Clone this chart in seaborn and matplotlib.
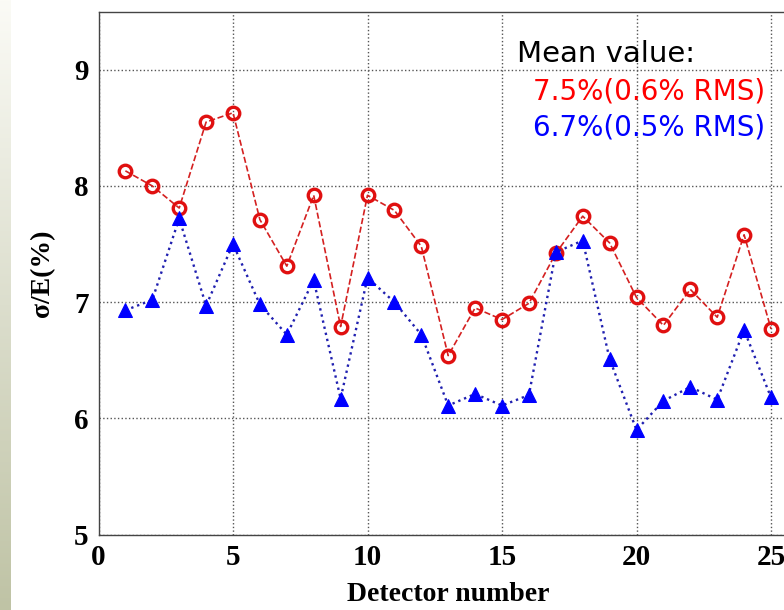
import numpy as np
import pandas as pd
import matplotlib
matplotlib.use("Agg")
import matplotlib.pyplot as plt
import seaborn as sns

# Data
detectors = list(range(1, 26))
sigma_red = [8.13, 8.00, 7.81, 8.55, 8.63, 7.71, 7.31, 7.92, 6.79, 7.92,
             7.79, 7.48, 6.54, 6.95, 6.85, 6.99, 7.42, 7.74, 7.51, 7.04,
             6.80, 7.11, 6.87, 7.58, 6.77]
sigma_blue = [6.93, 7.02, 7.72, 6.97, 7.50, 6.98, 6.72, 7.19, 6.17, 7.21,
              7.00, 6.72, 6.11, 6.21, 6.11, 6.20, 7.43, 7.53, 6.51, 5.90,
              6.15, 6.27, 6.16, 6.76, 6.18]
x_ticks = [0, 5, 10, 15, 20, 25]
y_ticks = [5, 6, 7, 8, 9]
mean_label = "Mean value:"
red_label = "7.5%(0.6% RMS)"
blue_label = "6.7%(0.5% RMS)"

df = pd.DataFrame({"detector": detectors, "red": sigma_red, "blue": sigma_blue})

sns.set_style("white")
plt.rcParams["font.family"] = ["Liberation Serif", "DejaVu Serif"]
plt.rcParams["text.color"] = "black"
plt.rcParams["axes.labelcolor"] = "black"
plt.rcParams["xtick.color"] = "black"
plt.rcParams["ytick.color"] = "black"

fig = plt.figure(figsize=(7.84, 6.10), dpi=100)

# beige slide strip on the left
strip = fig.add_axes([0, 0, 11 / 784, 1])
grad = np.linspace(0, 1, 256).reshape(-1, 1)
cmap = matplotlib.colors.LinearSegmentedColormap.from_list("strip", ["#fbfbf6", "#dcdecd", "#bfc3a5"])
strip.imshow(grad, aspect="auto", cmap=cmap, extent=[0, 1, 0, 1], origin="upper")
strip.axis("off")

# axes run past the right edge of the picture (cropped like the reference)
ax = fig.add_axes([98.5 / 784, 75.5 / 610, 699.4 / 784, 522.8 / 610])

sns.lineplot(data=df, x="detector", y="red", ax=ax, color="#d42020", linestyle="--",
             linewidth=1.2, marker="o", markersize=9, markerfacecolor="none",
             markeredgecolor="#e01010", markeredgewidth=2.4)
sns.lineplot(data=df, x="detector", y="blue", ax=ax, color="#2020b0", linestyle=":",
             linewidth=1.7, marker="^", markersize=10.5, markerfacecolor="#0000ff",
             markeredgecolor="#0000ff")

ax.set_xlim(0, 26)
ax.set_ylim(5, 9.5)
ax.set_xticks(x_ticks)
ax.set_yticks(y_ticks)
ax.grid(True, linestyle=":", color="#555555", linewidth=1.0)
ax.set_axisbelow(True)
ax.tick_params(direction="in", length=5, color="#444444", labelsize=21, pad=7)
for lab in ax.get_xticklabels() + ax.get_yticklabels():
    lab.set_fontweight("bold")
for sp in ax.spines.values():
    sp.set_color("#444444")
    sp.set_linewidth(1.0)
ax.spines["right"].set_visible(False)

ax.set_xlabel("Detector number", fontsize=20, fontweight="bold", labelpad=8)
ax.set_ylabel("σ/E(%)", fontsize=20, fontweight="bold", labelpad=14)

ax.text(15.56, 9.14, mean_label, fontsize=21, family="DejaVu Sans", color="black",
        ha="left", va="center")
ax.text(24.78, 8.81, red_label, fontsize=20, family="DejaVu Sans", color="#ff0000",
        ha="right", va="center")
ax.text(24.78, 8.50, blue_label, fontsize=20, family="DejaVu Sans", color="#0000ff",
        ha="right", va="center")

fig.savefig("out.png", dpi=100)
plt.close(fig)
